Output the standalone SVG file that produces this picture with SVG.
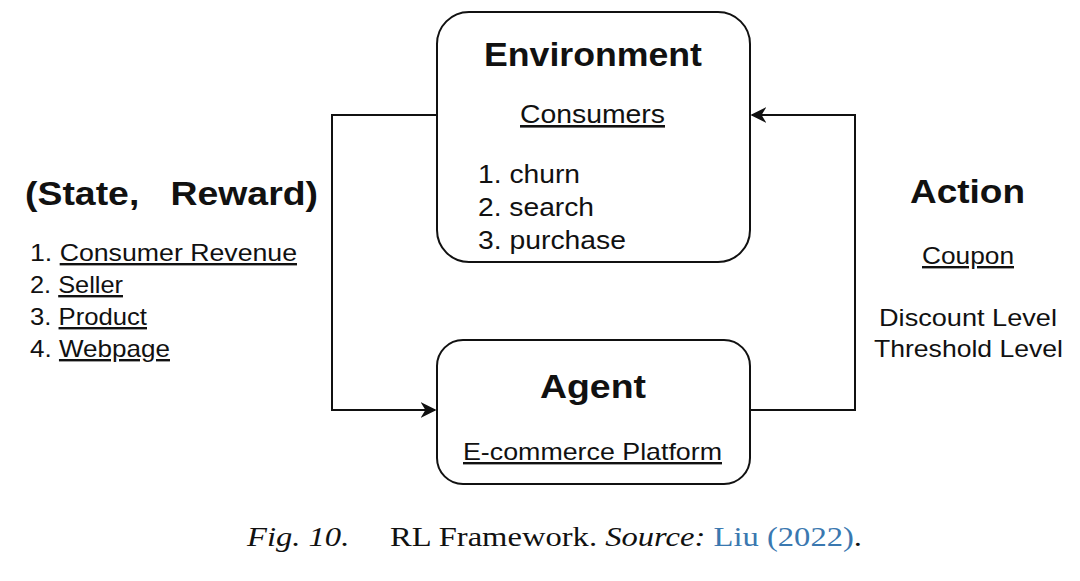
<svg xmlns="http://www.w3.org/2000/svg" width="1080" height="581" viewBox="0 0 1080 581">
<style>
.box{fill:#fff;stroke:#111;stroke-width:2}
.c{fill:none;stroke:#111;stroke-width:2}
text{font-family:"Liberation Sans",Arial,sans-serif;fill:#111}
.h{font-weight:bold;font-size:34px}
.t{font-size:26px}
.s{font-size:24px}
.u{text-decoration:underline}
.cap{font-family:"Liberation Serif","Times New Roman",serif;font-size:27px}
</style>
<defs><marker id="a" viewBox="0 0 10 10" refX="9" refY="5" markerWidth="16" markerHeight="16" markerUnits="userSpaceOnUse" orient="auto"><path d="M0,0L10,5L0,10L3,5Z" fill="#111"/></marker></defs>
<g id="connectors">
<path class="c" d="M437,115H332V410H435" marker-end="url(#a)"/>
<path class="c" d="M750,410H855V115H752" marker-end="url(#a)"/>
</g>
<g id="environment">
<rect class="box" x="437" y="12" width="313" height="250" rx="32"/>
<text class="h" x="484" y="66" textLength="218" lengthAdjust="spacingAndGlyphs">Environment</text>
<text class="t u" x="520" y="123" textLength="145" lengthAdjust="spacingAndGlyphs">Consumers</text>
<text class="t" x="478" y="183" textLength="102" lengthAdjust="spacingAndGlyphs">1. churn</text>
<text class="t" x="478" y="216" textLength="116" lengthAdjust="spacingAndGlyphs">2. search</text>
<text class="t" x="478" y="249" textLength="148" lengthAdjust="spacingAndGlyphs">3. purchase</text>
</g>
<g id="agent">
<rect class="box" x="437" y="340" width="313" height="144" rx="26"/>
<text class="h" x="540" y="398" textLength="106" lengthAdjust="spacingAndGlyphs">Agent</text>
<text class="s u" x="463" y="460" textLength="259" lengthAdjust="spacingAndGlyphs">E-commerce Platform</text>
</g>
<g id="state">
<text class="h" x="25" y="205" xml:space="preserve" textLength="293" lengthAdjust="spacingAndGlyphs">(State,   Reward)</text>
<text class="s" x="30" y="261" textLength="267" lengthAdjust="spacingAndGlyphs">1. <tspan class="u">Consumer Revenue</tspan></text>
<text class="s" x="30" y="293" textLength="93" lengthAdjust="spacingAndGlyphs">2. <tspan class="u">Seller</tspan></text>
<text class="s" x="30" y="325" textLength="117" lengthAdjust="spacingAndGlyphs">3. <tspan class="u">Product</tspan></text>
<text class="s" x="30" y="357" textLength="140" lengthAdjust="spacingAndGlyphs">4. <tspan class="u">Webpage</tspan></text>
</g>
<g id="action">
<text class="h" x="910" y="203" textLength="115" lengthAdjust="spacingAndGlyphs">Action</text>
<text class="s u" x="922" y="264" textLength="92" lengthAdjust="spacingAndGlyphs">Coupon</text>
<text class="s" x="879" y="326" textLength="178" lengthAdjust="spacingAndGlyphs">Discount Level</text>
<text class="s" x="874" y="357" textLength="189" lengthAdjust="spacingAndGlyphs">Threshold Level</text>
</g>
<text class="cap" x="247" y="546" xml:space="preserve" textLength="615" lengthAdjust="spacingAndGlyphs"><tspan font-style="italic">Fig. 10.</tspan>     RL Framework. <tspan font-style="italic">Source:</tspan> <tspan fill="#3a78b0">Liu (2022)</tspan>.</text>
</svg>
